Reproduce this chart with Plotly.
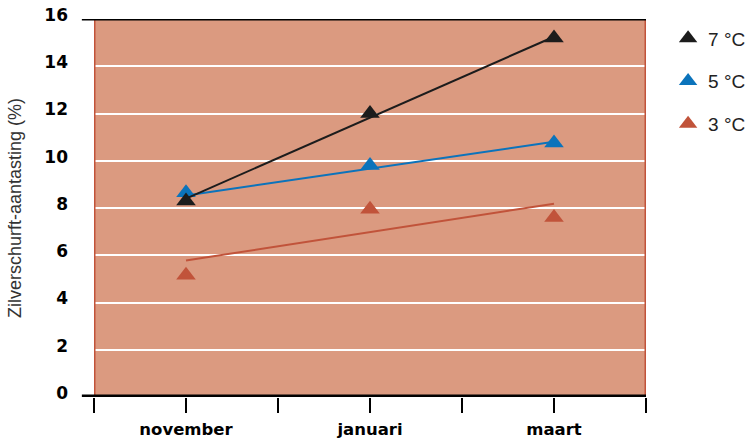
import plotly.graph_objects as go

# ---- data ----
categories = ["november", "januari", "maart"]
series_names = ["7 °C", "5 °C", "3 °C"]
values_7 = [8.3, 12.0, 15.2]
values_5 = [8.65, 9.8, 10.75]
values_3 = [5.15, 7.95, 7.6]
# trend lines (start value at november, end value at maart)
trend_7 = [8.4, 15.25]
trend_5 = [8.53, 10.8]
trend_3 = [5.78, 8.18]
y_ticks = [0, 2, 4, 6, 8, 10, 12, 14, 16]
y_title = "Zilverschurft-aantasting (%)"

# ---- styling ----
C_BLACK = "#1c1c1c"
C_BLUE = "#0b73bb"
C_RED = "#c1533a"
C_BG = "#db9a80"

cat_x = [2 * i for i in range(len(categories))]
trend_x = [cat_x[0], cat_x[-1]]

fig = go.Figure()

def add_series(name, vals, trend, color, rank):
    fig.add_trace(go.Scatter(x=trend_x, y=trend, mode="lines",
                             line=dict(color=color, width=2),
                             showlegend=False, hoverinfo="skip"))
    fig.add_trace(go.Scatter(x=cat_x, y=vals, mode="markers", name=name,
                             marker=dict(symbol="triangle-up", size=17, color=color,
                                         line=dict(width=0)),
                             legendgroup=name, legendrank=rank))

add_series(series_names[2], values_3, trend_3, C_RED, 3)
add_series(series_names[1], values_5, trend_5, C_BLUE, 2)
add_series(series_names[0], values_7, trend_7, C_BLACK, 1)

# tick positions along x: every unit, labels only under categories
x_tickvals = list(range(-1, 6))
x_ticktext = []
for v in x_tickvals:
    if v in cat_x:
        x_ticktext.append(categories[cat_x.index(v)])
    else:
        x_ticktext.append("")

fig.update_layout(
    width=755, height=439,
    margin=dict(l=94, r=109, t=19, b=42, autoexpand=False),
    paper_bgcolor="white",
    plot_bgcolor=C_BG,
    font=dict(family="Liberation Sans, Arial, sans-serif", color="#222"),
    legend=dict(
        x=1.04, y=0.999, xanchor="left", yanchor="top",
        traceorder="grouped", tracegroupgap=15,
        font=dict(size=19, color="#222", family="Liberation Sans, Arial, sans-serif"),
        bgcolor="rgba(0,0,0,0)",
    ),
    xaxis=dict(
        range=[-1, 5], tickmode="array", tickvals=x_tickvals, ticktext=x_ticktext,
        ticks="outside", ticklen=15, tickwidth=1.5, tickcolor="black",
        showgrid=False, zeroline=False, showline=False, automargin=False,
        tickfont=dict(family="DejaVu Sans", size=16.5, color="black", weight="bold"),
        ticklabelstandoff=2,
    ),
    yaxis=dict(
        range=[0, 16], tickmode="array", tickvals=y_ticks,
        showgrid=True, gridcolor="white", gridwidth=1.5,
        zeroline=False, showline=False, ticks="", automargin=False,
        tickfont=dict(family="DejaVu Sans", size=17, color="black", weight="bold"),
        ticklabelstandoff=25, ticklabelshift=-4,
    ),
    annotations=[
        dict(text=y_title, xref="paper", yref="paper", x=-0.143, y=0.5,
             xanchor="center", yanchor="middle", textangle=-90, showarrow=False,
             font=dict(family="Liberation Sans, Arial, sans-serif", size=18, color="#333")),
    ],
    shapes=[
        dict(type="line", xref="x", yref="y", x0=-1, x1=-1, y0=0, y1=16,
             line=dict(color=C_RED, width=3), layer="above"),
        dict(type="line", xref="x", yref="y", x0=5, x1=5, y0=0, y1=16,
             line=dict(color=C_RED, width=3), layer="above"),
        dict(type="line", xref="paper", yref="y", x0=-0.022, x1=1.0, y0=16, y1=16,
             line=dict(color="black", width=3), layer="above"),
        dict(type="line", xref="paper", yref="y", x0=-0.022, x1=1.0, y0=0, y1=0,
             line=dict(color="black", width=5), layer="above"),
    ],
)

fig.write_html("out.html",
               config={"displayModeBar": False},
               post_script="document.body.style.margin='0';document.body.style.overflow='hidden';")
